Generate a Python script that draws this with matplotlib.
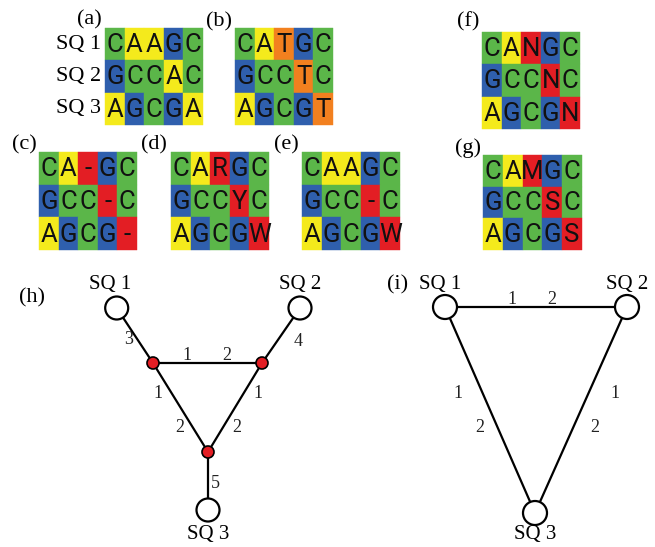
import matplotlib
matplotlib.use("Agg")
import matplotlib.pyplot as plt
from matplotlib.patches import Rectangle, Circle

# ---- data ----
panel_a = ["CAAGC", "GCCAC", "AGCGA"]
panel_b = ["CATGC", "GCCTC", "AGCGT"]
panel_c = ["CA-GC", "GCC-C", "AGCG-"]
panel_d = ["CARGC", "GCCYC", "AGCGW"]
panel_e = ["CAAGC", "GCC-C", "AGCGW"]
panel_f = ["CANGC", "GCCNC", "AGCGN"]
panel_g = ["CAMGC", "GCCSC", "AGCGS"]
seq_names = ["SQ 1", "SQ 2", "SQ 3"]
panel_labels = ["(a)", "(b)", "(c)", "(d)", "(e)", "(f)", "(g)", "(h)", "(i)"]

h_edge_labels = ["3", "4", "1", "2", "1", "2", "1", "2", "5"]
i_edge_labels = ["1", "2", "1", "2", "1", "2"]

base_colors = {"A": "#f4ea1c", "C": "#5bb649", "G": "#2f5fad", "T": "#f2801f"}
other_color = "#e31e24"

fig = plt.figure(figsize=(6.55, 5.47), dpi=100)
ax = fig.add_axes([0, 0, 1, 1])
ax.set_xlim(0, 655)
ax.set_ylim(547, 0)
ax.axis("off")

serif = "Liberation Serif"


def grid(rows, x0, y0, w, h):
    cw = w / 5
    rh = h / 3
    for r, row in enumerate(rows):
        for c, ch in enumerate(row):
            col = base_colors.get(ch, other_color)
            ax.add_patch(Rectangle((x0 + c * cw, y0 + r * rh), cw, rh,
                                   facecolor=col, edgecolor=col, lw=0.3))
            ax.text(x0 + (c + 0.5) * cw, y0 + (r + 0.53) * rh, ch,
                    ha="center", va="center", fontsize=18.5,
                    family="Roboto", color="#111111")


grid(panel_a, 105, 28, 98, 97)
grid(panel_b, 235, 28, 98, 97)
grid(panel_c, 39, 152, 98, 98)
grid(panel_d, 171, 152, 98, 98)
grid(panel_e, 302, 152, 98, 98)
grid(panel_f, 482, 32, 98, 97)
grid(panel_g, 483, 155, 99, 95)

for i, name in enumerate(seq_names):
    ax.text(79, 44 + i * 32.5, name, ha="center", va="center",
            fontsize=16, family=serif)

label_pos = [(89, 20), (219, 22), (24, 145), (154, 145), (286, 145),
             (468, 22), (468, 148), (32, 298), (398, 285)]
for lbl, (x, y) in zip(panel_labels, label_pos):
    ax.text(x, y, lbl, ha="center", va="center", fontsize=16, family=serif)

# ---- network (h) ----
h_sq = [(116.7, 308), (300, 308), (208, 510)]
h_red = [(153, 363), (262, 363), (208, 452)]
h_edges = [(h_sq[0], h_red[0]), (h_sq[1], h_red[1]), (h_red[0], h_red[1]),
           (h_red[0], h_red[2]), (h_red[1], h_red[2]), (h_red[2], h_sq[2])]
for p, q in h_edges:
    ax.plot([p[0], q[0]], [p[1], q[1]], color="black", lw=1.6, zorder=2)
for (x, y) in h_sq:
    ax.add_patch(Circle((x, y), 11.5, facecolor="white", edgecolor="black",
                        lw=1.6, zorder=3))
for (x, y) in h_red:
    ax.add_patch(Circle((x, y), 6, facecolor="#e31e24", edgecolor="black",
                        lw=1.2, zorder=3))
h_sq_lbl = [(110, 285), (300, 284), (208, 534)]
for name, (x, y) in zip(seq_names, h_sq_lbl):
    ax.text(x, y, name, ha="center", va="center", fontsize=15, family=serif)
h_lbl_pos = [(129, 340), (298, 342), (187, 355), (227, 355), (158, 393),
             (180, 427), (258, 393), (237, 427), (215, 483)]
for t, (x, y) in zip(h_edge_labels, h_lbl_pos):
    ax.text(x, y, t, ha="center", va="center", fontsize=13, family=serif,
            color="#222222")

# ---- network (i) ----
i_sq = [(445, 307), (627, 307), (535, 513)]
i_edges = [(i_sq[0], i_sq[1]), (i_sq[0], i_sq[2]), (i_sq[1], i_sq[2])]
for p, q in i_edges:
    ax.plot([p[0], q[0]], [p[1], q[1]], color="black", lw=1.6, zorder=2)
for (x, y) in i_sq:
    ax.add_patch(Circle((x, y), 12, facecolor="white", edgecolor="black",
                        lw=1.6, zorder=3))
i_sq_lbl = [(440, 285), (627, 285), (535, 534)]
for name, (x, y) in zip(seq_names, i_sq_lbl):
    ax.text(x, y, name, ha="center", va="center", fontsize=15, family=serif)
i_lbl_pos = [(512, 300), (552, 300), (458, 393), (480, 428), (615, 393), (595, 428)]
for t, (x, y) in zip(i_edge_labels, i_lbl_pos):
    ax.text(x, y, t, ha="center", va="center", fontsize=13, family=serif,
            color="#222222")

fig.savefig("out.png", dpi=100)
